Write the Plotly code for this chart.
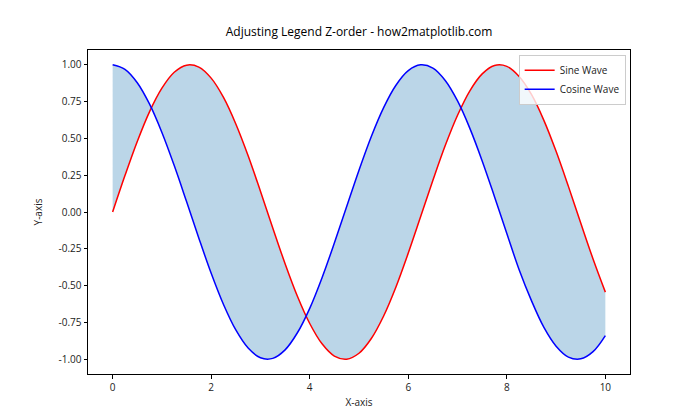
import plotly.graph_objects as go

x_vals = [0, 0.25, 0.5, 0.75, 1, 1.25, 1.5, 1.75, 2, 2.25, 2.5, 2.75, 3, 3.25, 3.5, 3.75,
          4, 4.25, 4.5, 4.75, 5, 5.25, 5.5, 5.75, 6, 6.25, 6.5, 6.75, 7, 7.25, 7.5, 7.75,
          8, 8.25, 8.5, 8.75, 9, 9.25, 9.5, 9.75, 10]
sine_vals = [0, 0.247, 0.479, 0.682, 0.841, 0.949, 0.997, 0.984, 0.909, 0.778, 0.598, 0.382,
             0.141, -0.108, -0.351, -0.572, -0.757, -0.895, -0.978, -0.999, -0.959, -0.859,
             -0.706, -0.509, -0.279, -0.033, 0.215, 0.451, 0.657, 0.823, 0.938, 0.995,
             0.989, 0.920, 0.798, 0.624, 0.412, 0.174, -0.075, -0.319, -0.544]
cosine_vals = [1, 0.969, 0.878, 0.732, 0.540, 0.315, 0.071, -0.178, -0.416, -0.628, -0.801,
               -0.924, -0.990, -0.994, -0.936, -0.820, -0.654, -0.446, -0.211, 0.037, 0.284,
               0.513, 0.709, 0.861, 0.960, 0.999, 0.977, 0.893, 0.754, 0.568, 0.347, 0.104,
               -0.146, -0.392, -0.602, -0.782, -0.911, -0.985, -0.997, -0.948, -0.839]
x_ticks = [0, 2, 4, 6, 8, 10]
y_ticks = [-1.0, -0.75, -0.5, -0.25, 0.0, 0.25, 0.5, 0.75, 1.0]

FONT = "Open Sans"
fig = go.Figure()
# fill between
fig.add_trace(go.Scatter(x=x_vals, y=sine_vals, mode="lines", line=dict(width=0, shape="spline"),
                         showlegend=False, hoverinfo="skip"))
fig.add_trace(go.Scatter(x=x_vals, y=cosine_vals, mode="lines", line=dict(width=0, shape="spline"),
                         fill="tonexty", fillcolor="rgba(31,119,180,0.3)",
                         showlegend=False, hoverinfo="skip"))
fig.add_trace(go.Scatter(x=x_vals, y=sine_vals, mode="lines", name="Sine Wave",
                         line=dict(color="red", width=1.5, shape="spline")))
fig.add_trace(go.Scatter(x=x_vals, y=cosine_vals, mode="lines", name="Cosine Wave",
                         line=dict(color="blue", width=1.5, shape="spline")))

axis_common = dict(showgrid=False, zeroline=False, showline=True, linecolor="black", linewidth=1,
                   mirror=True, ticks="outside", ticklen=3.5, tickwidth=0.8, tickcolor="black",
                   tickfont=dict(family=FONT, size=10, color="#222"))
fig.update_xaxes(range=[-0.5, 10.5], tickvals=x_ticks, ticktext=[str(t) for t in x_ticks],
                 title=dict(text="X-axis", font=dict(family=FONT, size=10, color="#222"), standoff=6),
                 **axis_common)
fig.update_yaxes(range=[-1.1, 1.1], tickvals=y_ticks, ticktext=[f"{t:.2f}" for t in y_ticks],
                 title=dict(text="Y-axis", font=dict(family=FONT, size=10, color="#222"), standoff=14),
                 **axis_common)
fig.update_layout(
    width=700, height=420, paper_bgcolor="white", plot_bgcolor="white",
    margin=dict(l=88, r=70, t=50, b=46),
    title=dict(text="Adjusting Legend Z-order - how2matplotlib.com", x=0.513, xanchor="center",
               y=0.925, yanchor="middle", font=dict(family=FONT, size=12, color="black")),
    legend=dict(x=0.992, y=0.985, xanchor="right", yanchor="top", bgcolor="rgba(255,255,255,0.8)",
                bordercolor="#ccc", borderwidth=1, font=dict(family=FONT, size=10, color="#222"),
                tracegroupgap=0, itemwidth=30, traceorder="normal"),
    showlegend=True,
)
fig.write_html("out.html")
